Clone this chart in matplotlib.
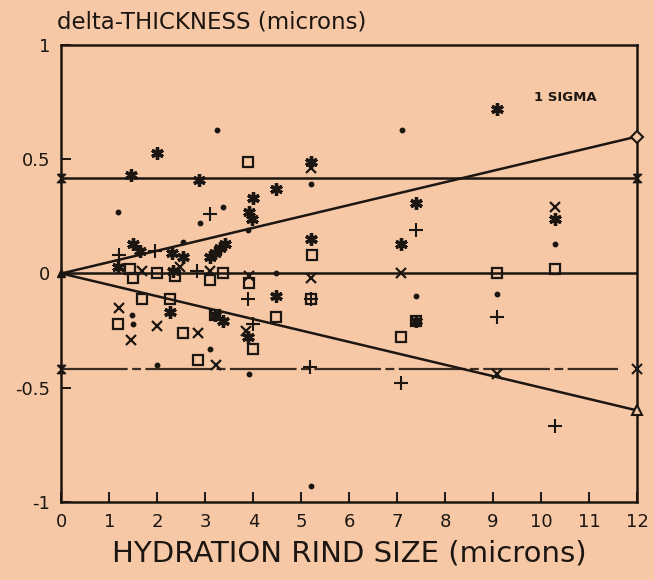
import numpy as np
import matplotlib
matplotlib.use("Agg")
import matplotlib.pyplot as plt

BG = '#F7C8A5'
INK = '#1c1612'

# observed points, grouped by symbol
star_x = [2.0, 1.45, 2.87, 4.47, 4.0, 3.9, 3.97, 5.2, 5.2, 9.08, 7.4, 10.3, 7.08,
          1.49, 1.64, 2.3, 2.53, 3.1, 3.2, 3.3, 3.4, 1.18, 2.33, 4.47, 2.27,
          3.2, 3.37, 3.88, 7.4]
star_y = [0.53, 0.43, 0.41, 0.37, 0.33, 0.27, 0.24, 0.49, 0.15, 0.72, 0.31, 0.24, 0.13,
          0.13, 0.10, 0.09, 0.07, 0.07, 0.09, 0.11, 0.13, 0.03, 0.01, -0.10, -0.17,
          -0.18, -0.21, -0.28, -0.21]

dot_x = [3.24, 7.09, 5.2, 3.37, 1.18, 2.88, 3.88, 2.53, 10.3, 4.47, 7.4, 9.08,
         1.47, 1.5, 3.1, 2.0, 3.9, 5.2]
dot_y = [0.63, 0.63, 0.39, 0.29, 0.27, 0.22, 0.19, 0.14, 0.13, 0.0, -0.10, -0.09,
         -0.18, -0.22, -0.33, -0.40, -0.44, -0.93]

cross_x = [10.3, 5.2, 7.08, 1.68, 2.47, 3.1, 3.9, 5.2, 1.2, 2.0, 1.45, 2.85, 3.85, 3.22, 9.08]
cross_y = [0.29, 0.46, 0.0, 0.01, 0.03, 0.01, -0.01, -0.02, -0.15, -0.23, -0.29, -0.26,
           -0.25, -0.40, -0.44]

plus_x = [3.1, 7.4, 1.2, 1.95, 2.82, 3.88, 5.2, 4.0, 9.08, 5.18, 7.08, 10.3]
plus_y = [0.26, 0.19, 0.08, 0.10, 0.01, -0.11, -0.11, -0.22, -0.19, -0.41, -0.48, -0.67]

sq_x = [3.88, 5.22, 9.08, 10.3, 1.43, 1.5, 2.0, 2.37, 3.37, 3.1, 3.9, 1.68, 2.27,
        5.2, 3.2, 4.47, 7.4, 1.18, 2.53, 7.08, 4.0, 2.85]
sq_y = [0.49, 0.08, 0.0, 0.02, 0.02, -0.02, 0.0, -0.01, 0.0, -0.03, -0.04, -0.11, -0.11,
        -0.11, -0.18, -0.19, -0.21, -0.22, -0.26, -0.28, -0.33, -0.38]

# 1 sigma envelope
sigma_const = 0.42
sigma_slope = 0.05
x_span = [0, 12]

xticks = list(range(0, 13))
yticks = [1, 0.5, 0, -0.5, -1]
ytick_labels = ['1', '0.5', '0', '-0.5', '-1']

fig = plt.figure(figsize=(6.54, 5.8), dpi=100, facecolor=BG)
ax = fig.add_axes([0.094, 0.135, 0.880, 0.787], facecolor=BG)

bowtie = [(-1, 1), (1, 1), (-1, -1), (1, -1), (-1, 1)]

# envelope lines
ax.plot(x_span, [sigma_const, sigma_const], color=INK, lw=1.8, zorder=2)
ax.plot(x_span, [0, 0], color=INK, lw=1.8, zorder=2)
ax.plot([0, 11.6], [-sigma_const, -sigma_const], color='#3b2d24', lw=1.6,
        dashes=(30, 2, 4, 2), zorder=2)
ax.plot(x_span, [0, sigma_slope * 12], color=INK, lw=1.8, zorder=2)
ax.plot(x_span, [0, -sigma_slope * 12], color=INK, lw=1.8, zorder=2)

# end markers
ax.plot([0, 12], [sigma_const, sigma_const], ls='none', marker=bowtie, ms=6, color=INK,
        clip_on=False, zorder=5)
ax.plot([0], [-sigma_const], ls='none', marker=bowtie, ms=6, color=INK, clip_on=False, zorder=5)
ax.plot([12], [-sigma_const], ls='none', marker='x', ms=7, mew=1.5, color=INK, clip_on=False, zorder=5)
ax.plot([0], [0], ls='none', marker='^', ms=6, color=INK, clip_on=False, zorder=5)
ax.plot([12], [sigma_slope * 12], ls='none', marker='D', ms=6, mfc=BG, mec=INK, mew=1.5,
        clip_on=False, zorder=5)
ax.plot([12], [-sigma_slope * 12], ls='none', marker='^', ms=7, mfc=BG, mec=INK, mew=1.5,
        clip_on=False, zorder=5)

# data symbols
ax.plot(sq_x, sq_y, ls='none', marker='s', ms=7, mfc='none', mec=INK, mew=1.6, zorder=3)
ax.plot(star_x, star_y, ls='none', marker=(6, 2, 0), ms=9, mec=INK, mew=2.4, zorder=4)
ax.plot(cross_x, cross_y, ls='none', marker='x', ms=7, mec=INK, mew=1.6, zorder=4)
ax.plot(plus_x, plus_y, ls='none', marker='+', ms=10, mec=INK, mew=1.5, zorder=4)
ax.plot(dot_x, dot_y, ls='none', marker='o', ms=3.2, color=INK, zorder=4)

ax.text(10.5, 0.77, '1 SIGMA', fontsize=9.5, fontweight='bold', color=INK,
        ha='center', va='center')

ax.set_xlim(0, 12)
ax.set_ylim(-1, 1)
ax.set_xticks(xticks)
ax.set_yticks(yticks)
ax.set_yticklabels(ytick_labels)
ax.tick_params(axis='both', direction='in', length=7, width=1.4, colors=INK,
               labelsize=13, pad=8)
for s in ax.spines.values():
    s.set_linewidth(1.8)
    s.set_color(INK)

ax.set_xlabel('HYDRATION RIND SIZE (microns)', fontsize=21, color=INK, labelpad=6)
fig.text(0.087, 0.962, 'delta-THICKNESS (microns)', fontsize=16.5, color=INK,
         ha='left', va='center')

fig.savefig('out.png', dpi=100, facecolor=BG)
